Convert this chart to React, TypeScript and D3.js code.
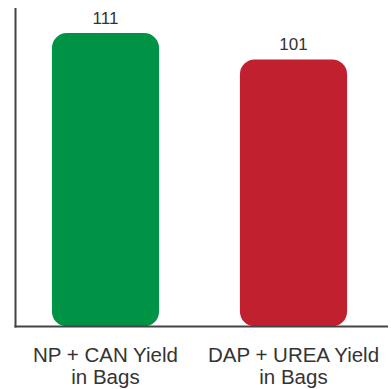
import React from "react";
import * as d3 from "d3";

const categories = ["NP + CAN Yield|in Bags", "DAP + UREA Yield|in Bags"];
const values = [111, 101];
const colors = ["#009245", "#C1202F"];

const W = 391;
const H = 389;
const baseY = 326.5;
const axisX = 15.5;

function roundedRect(x: number, y: number, w: number, h: number, r: number) {
  const rr = Math.min(r, w / 2, h / 2);
  return `M${x + rr},${y}H${x + w - rr}A${rr},${rr} 0 0 1 ${x + w},${y + rr}V${y + h - rr}A${rr},${rr} 0 0 1 ${x + w - rr},${y + h}H${x + rr}A${rr},${rr} 0 0 1 ${x},${y + h - rr}V${y + rr}A${rr},${rr} 0 0 1 ${x + rr},${y}Z`;
}

export default function App() {
  const x = d3.scaleBand<string>().domain(categories).range([11.5, 387.5]).paddingInner(0.43).paddingOuter(0.215);
  const y = d3.scaleLinear().domain([0, 111]).range([baseY - 0.5, 33]);
  const font = "'Liberation Sans', Arial, Helvetica, sans-serif";
  return (
    <svg width={W} height={H} style={{ position: "absolute", left: 0, top: 0 }} fontFamily={font}>
      {categories.map((c, i) => {
        const bx = x(c)!;
        const bw = x.bandwidth();
        const top = y(values[i]);
        const cx = bx + bw / 2;
        const lines = c.split("|");
        return (
          <g key={c}>
            <path d={roundedRect(bx, top, bw, baseY - top, 15)} fill={colors[i]} />
            <text x={cx} y={top - 9.5} textAnchor="middle" fontSize={17} fill="#333">
              {values[i]}
            </text>
            {lines.map((l, j) => (
              <text key={j} x={cx} y={362 + j * 22} textAnchor="middle" fontSize={20.5} fill="#333">
                {l}
              </text>
            ))}
          </g>
        );
      })}
      <line x1={axisX} x2={axisX} y1={8} y2={baseY + 1} stroke="#444" strokeWidth={2} />
      <line x1={axisX - 1} x2={388} y1={baseY} y2={baseY} stroke="#444" strokeWidth={2} />
    </svg>
  );
}
